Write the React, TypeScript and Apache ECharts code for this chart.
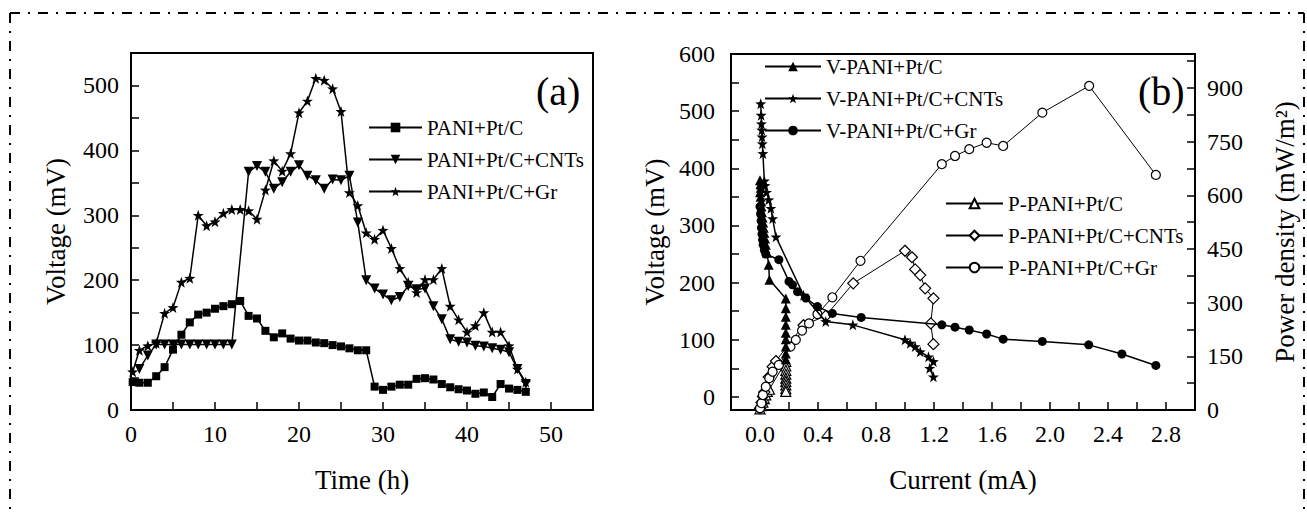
import React, { useEffect, useRef } from "react";
import * as echarts from "echarts";

// ---------- Panel (a): Voltage vs time ----------
const timeSq = [0.2, 1, 2, 3, 4, 5, 6, 7, 8, 9, 10, 11, 12, 13, 14, 15, 16, 17, 18, 19, 20, 21, 22, 23, 24, 25, 26, 27, 28, 29, 30, 31, 32, 33, 34, 35, 36, 37, 38, 39, 40, 41, 42, 43, 44, 45, 46, 47];
const vPtC = [43, 42, 42, 52, 66, 93, 116, 135, 147, 150, 156, 160, 163, 168, 145, 141, 122, 112, 118, 110, 107, 107, 104, 103, 100, 98, 95, 92, 92, 36, 31, 36, 39, 39, 48, 49, 47, 40, 35, 32, 30, 25, 27, 20, 40, 33, 31, 28];

const timeCnt = [1, 2, 3, 4, 5, 6, 7, 8, 9, 10, 11, 12, 14, 15, 16, 17, 18, 19, 20, 21, 22, 23, 24, 25, 26, 27, 28, 29, 30, 31, 32, 33, 34, 35, 36, 37, 38, 39, 40, 41, 42, 43, 44, 45, 46, 47];
const vCnt = [63, 84, 101, 101, 101, 101, 101, 101, 101, 101, 101, 101, 367, 376, 367, 341, 351, 367, 377, 361, 354, 341, 355, 354, 361, 289, 200, 187, 178, 169, 174, 191, 186, 187, 160, 140, 109, 105, 104, 99, 98, 95, 93, 89, 63, 40];

const timeGr = [0.2, 1, 2, 3, 4, 5, 6, 7, 8, 9, 10, 11, 12, 13, 14, 15, 16, 17, 18, 19, 20, 21, 22, 23, 24, 25, 26, 27, 28, 29, 30, 31, 32, 33, 34, 35, 36, 37, 38, 39, 40, 41, 42, 43, 44, 45, 46, 47];
const vGr = [59, 92, 99, 103, 149, 158, 197, 203, 300, 284, 290, 303, 309, 309, 307, 294, 339, 384, 368, 395, 458, 476, 511, 508, 495, 460, 335, 315, 273, 263, 277, 249, 218, 197, 181, 201, 201, 218, 160, 139, 120, 130, 150, 120, 120, 99, 63, 43];

// ---------- Panel (b): Voltage / power vs current ----------
const iVPtC = [0.0, 0.003, 0.005, 0.0, 0.004, 0.008, 0.01, 0.014, 0.018, 0.022, 0.026, 0.03, 0.035, 0.04, 0.048, 0.06, 0.065, 0.178, 0.178, 0.178, 0.178, 0.178, 0.178, 0.178, 0.178, 0.178];
const vVPtC = [379, 372, 366, 358, 350, 342, 333, 323, 314, 305, 296, 287, 277, 266, 252, 231, 205, 172, 155, 140, 126, 112, 101, 88, 76, 66];

const iVCnt = [0.005, 0.008, 0.01, 0.012, 0.014, 0.016, 0.02, 0.03, 0.035, 0.045, 0.06, 0.075, 0.087, 0.11, 0.3, 0.453, 0.64, 1.0, 1.036, 1.07, 1.105, 1.162, 1.196, 1.17, 1.196];
const vVCnt = [513, 493, 478, 467, 455, 443, 426, 378, 370, 358, 345, 330, 312, 280, 178, 132, 126, 100, 94, 88, 79, 70, 62, 50, 35];

const iVGr = [0.0, 0.004, 0.008, 0.01, 0.014, 0.018, 0.022, 0.03, 0.04, 0.13, 0.2, 0.224, 0.259, 0.316, 0.396, 0.499, 0.698, 1.254, 1.345, 1.443, 1.563, 1.677, 1.947, 2.267, 2.496, 2.73];
const vVGr = [333, 320, 308, 296, 285, 275, 266, 257, 250, 240, 202, 196, 184, 173, 158, 146, 139, 126, 122, 117, 110, 101, 97, 91, 75, 55];

const iPPtC = [0.0, 0.01, 0.02, 0.03, 0.04, 0.05, 0.06, 0.065, 0.178, 0.178, 0.178, 0.178, 0.178, 0.178, 0.178, 0.178, 0.178];
const pPPtC = [3, 12, 22, 32, 42, 52, 60, 58, 136, 123, 111, 100, 89, 80, 70, 60, 52];

const iPCnt = [0.0, 0.01, 0.02, 0.03, 0.06, 0.087, 0.11, 0.3, 0.453, 0.643, 1.0, 1.048, 1.07, 1.105, 1.139, 1.196, 1.178, 1.196];
const pPCnt = [5, 21, 38, 50, 92, 121, 137, 237, 263, 354, 445, 427, 393, 377, 340, 312, 242, 184];

const iPGr = [0.0, 0.01, 0.02, 0.04, 0.064, 0.087, 0.13, 0.21, 0.247, 0.29, 0.338, 0.396, 0.499, 0.693, 1.254, 1.345, 1.443, 1.563, 1.677, 1.947, 2.27, 2.73];
const pPGr = [5, 19, 42, 65, 89, 107, 126, 177, 196, 222, 242, 268, 315, 417, 687, 710, 729, 747, 738, 831, 906, 657];

// tick values
const leftBTicks = [0, 50, 100, 150, 200, 250, 300, 350, 400, 450, 500, 550, 600];
const leftBLabels = [0, 100, 200, 300, 400, 500, 600];
const rightBTicks = [0, 75, 150, 225, 300, 375, 450, 525, 600, 675, 750, 825, 900, 975];
const rightBLabels = [0, 150, 300, 450, 600, 750, 900];

const FONT = "Liberation Serif";
const STAR = "path://M0,-10L2.35,-3.24L9.51,-3.09L3.8,1.24L5.88,8.09L0,4L-5.88,8.09L-3.8,1.24L-9.51,-3.09L-2.35,-3.24Z";

const zip = (xs: number[], ys: number[]) => xs.map((x, i) => [x, ys[i]]);

export default function App() {
  const ref = useRef<HTMLDivElement>(null);
  useEffect(() => {
    if (!ref.current) return;
    const chart = echarts.init(ref.current, null, { renderer: "svg" });
    const axisLine = { show: true, onZero: false, lineStyle: { color: "#000", width: 2 } };
    const tick = { show: true, inside: true, length: 8, lineStyle: { color: "#000", width: 1.5 } };
    const lbl = { color: "#000", fontFamily: FONT, fontSize: 24 };
    const nameStyle = { color: "#000", fontFamily: FONT, fontSize: 27 };

    const solid = (name: string, data: number[][], symbol: string, size: number, xi: number, yi: number, open = false, rotate = 0, lw = 1.5) => ({
      type: "line",
      name,
      data,
      xAxisIndex: xi,
      yAxisIndex: yi,
      symbol,
      symbolSize: size,
      symbolRotate: rotate,
      showAllSymbol: true,
      color: "#000",
      lineStyle: { color: "#000", width: lw },
      itemStyle: open ? { color: "#fff", borderColor: "#000", borderWidth: 1.2 } : { color: "#000", borderColor: "#000", borderWidth: 0 },
      emphasis: { disabled: true },
      z: open ? 3 : 4,
    });

    const option: any = {
      animation: false,
      backgroundColor: "#fff",
      grid: [
        { left: 131, top: 53, width: 462, height: 357, show: true, borderColor: "#000", borderWidth: 2, outerBoundsMode: "none" },
        { left: 731, top: 54, width: 464, height: 356, show: true, borderColor: "#000", borderWidth: 2, outerBoundsMode: "none" },
      ],
      xAxis: [
        {
          type: "value", gridIndex: 0, min: 0, max: 55, interval: 5,
          axisLine, axisTick: tick, splitLine: { show: false },
          axisLabel: { ...lbl, margin: 12, formatter: (v: number) => (Math.round(v) % 10 === 0 ? String(Math.round(v)) : "") },
          name: "Time (h)", nameLocation: "middle", nameGap: 56, nameTextStyle: nameStyle,
        },
        {
          type: "value", gridIndex: 1, min: -0.2, max: 3.0, interval: 0.2,
          axisLine, axisTick: tick, splitLine: { show: false },
          axisLabel: {
            ...lbl, margin: 12,
            formatter: (v: number) => {
              const k = Math.round(v * 10);
              return k >= 0 && k % 4 === 0 && k <= 28 ? (k / 10).toFixed(1) : "";
            },
          },
          name: "Current (mA)", nameLocation: "middle", nameGap: 56, nameTextStyle: nameStyle,
        },
      ],
      yAxis: [
        {
          type: "value", gridIndex: 0, min: 0, max: 550, interval: 50,
          axisLine, axisTick: tick, splitLine: { show: false },
          axisLabel: { ...lbl, margin: 12, formatter: (v: number) => (Math.round(v) % 100 === 0 ? String(Math.round(v)) : "") },
          name: "Voltage (mV)", nameLocation: "middle", nameGap: 62, nameRotate: 90, nameTextStyle: nameStyle,
        },
        {
          type: "value", gridIndex: 1, min: -23, max: 600, position: "left",
          axisLine, splitLine: { show: false },
          axisTick: { ...tick, customValues: leftBTicks },
          axisLabel: { ...lbl, margin: 16, customValues: leftBLabels },
          name: "Voltage (mV)", nameLocation: "middle", nameGap: 63, nameRotate: 90, nameTextStyle: nameStyle,
        },
        {
          type: "value", gridIndex: 1, min: 0, max: 995, position: "right",
          axisLine, splitLine: { show: false },
          axisTick: { ...tick, customValues: rightBTicks },
          axisLabel: { ...lbl, margin: 12, customValues: rightBLabels },
          name: "Power density (mW/m²)", nameLocation: "middle", nameGap: 76, nameRotate: 90, nameTextStyle: nameStyle,
        },
      ],
      legend: [
        {
          data: ["PANI+Pt/C", "PANI+Pt/C+CNTs", "PANI+Pt/C+Gr"],
          orient: "vertical", left: 363, top: 112, itemWidth: 53, itemHeight: 12, itemGap: 11,
          textStyle: { color: "#000", fontFamily: FONT, fontSize: 21 }, selectedMode: false,
        },
        {
          data: ["V-PANI+Pt/C", "V-PANI+Pt/C+CNTs", "V-PANI+Pt/C+Gr"],
          orient: "vertical", left: 759, top: 51, itemWidth: 56, itemHeight: 12, itemGap: 11,
          textStyle: { color: "#000", fontFamily: FONT, fontSize: 21 }, selectedMode: false,
        },
        {
          data: ["P-PANI+Pt/C", "P-PANI+Pt/C+CNTs", "P-PANI+Pt/C+Gr"],
          orient: "vertical", left: 940, top: 188, itemWidth: 57, itemHeight: 12, itemGap: 11,
          textStyle: { color: "#000", fontFamily: FONT, fontSize: 21 }, selectedMode: false,
        },
      ],
      graphic: [
        { type: "line", shape: { x1: 10, y1: 13, x2: 1304, y2: 13 }, style: { stroke: "#000", lineWidth: 2, lineDash: [10, 8, 2, 8] } },
        { type: "line", shape: { x1: 10, y1: 13, x2: 10, y2: 514 }, style: { stroke: "#000", lineWidth: 2, lineDash: [10, 8, 2, 8] } },
        { type: "line", shape: { x1: 1304, y1: 13, x2: 1304, y2: 514 }, style: { stroke: "#000", lineWidth: 2, lineDash: [10, 8, 2, 8] } },
        { type: "text", left: 536, top: 71, style: { text: "(a)", fontSize: 40, fontFamily: FONT, fill: "#000" } },
        { type: "text", left: 1138, top: 71, style: { text: "(b)", fontSize: 40, fontFamily: FONT, fill: "#000" } },
      ],
      series: [
        solid("PANI+Pt/C", zip(timeSq, vPtC), "rect", 8, 0, 0),
        solid("PANI+Pt/C+CNTs", zip(timeCnt, vCnt), "triangle", 10, 0, 0, false, 180),
        solid("PANI+Pt/C+Gr", zip(timeGr, vGr), STAR, 11, 0, 0),
        solid("V-PANI+Pt/C", zip(iVPtC, vVPtC), "triangle", 10, 1, 1),
        solid("V-PANI+Pt/C+CNTs", zip(iVCnt, vVCnt), STAR, 11, 1, 1),
        solid("V-PANI+Pt/C+Gr", zip(iVGr, vVGr), "circle", 9, 1, 1),
        solid("P-PANI+Pt/C", zip(iPPtC, pPPtC), "triangle", 10, 1, 2, true, 0, 1),
        solid("P-PANI+Pt/C+CNTs", zip(iPCnt, pPCnt), "diamond", 11, 1, 2, true, 0, 1),
        solid("P-PANI+Pt/C+Gr", zip(iPGr, pPGr), "circle", 9, 1, 2, true, 0, 1),
      ],
    };
    chart.setOption(option);
    return () => chart.dispose();
  }, []);
  return <div ref={ref} style={{ position: "fixed", left: 0, top: 0, width: 1307, height: 514, background: "#fff" }} />;
}
